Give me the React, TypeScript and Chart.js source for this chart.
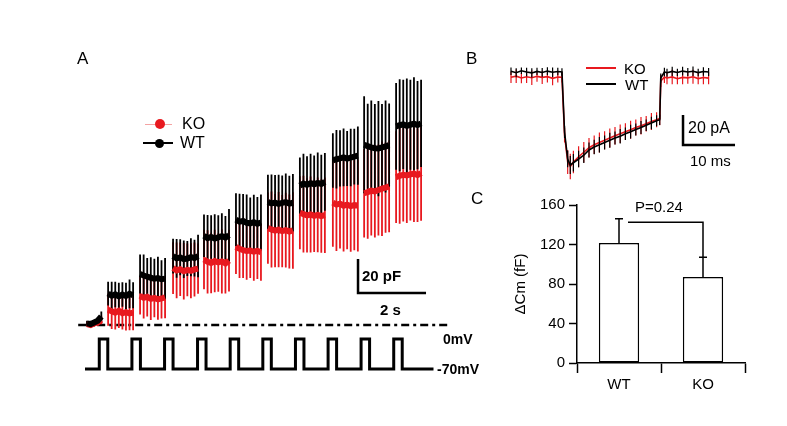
import React, { useEffect, useRef } from "react";
import { Chart, registerables } from "chart.js";

Chart.register(...registerables);

const FONT = '"Liberation Sans", Arial, Helvetica, sans-serif';
const RED = "#e8191f";
const BLACK = "#000000";

// ---------- Panel A: capacitance (pF) vs time (s) ----------
const groupStart = [0.06, 0.68, 1.62, 2.59, 3.5, 4.44, 5.38, 6.32, 7.29, 8.21, 9.15];
const sampleStep = 0.105;

const wtMean = [
  [1, 0.5, 1.5, 2.5, 5],
  [18.5, 17.2, 18.0, 16.8, 17.9, 17.1, 18.3, 17.5],
  [30.0, 29.1, 28.4, 27.8, 27.2, 27.6, 26.9, 27.3],
  [40.5, 39.2, 39.8, 38.7, 39.1, 39.9, 39.4, 40.6],
  [52.5, 51.1, 51.8, 50.9, 51.6, 52.3, 51.4, 52.8],
  [62.0, 60.8, 61.2, 60.1, 59.8, 60.5, 59.6, 60.3],
  [72.4, 71.5, 72.0, 71.2, 71.8, 72.3, 71.4, 71.9],
  [82.0, 83.2, 82.5, 83.4, 82.8, 83.6, 83.0, 84.2],
  [96.8, 97.5, 98.0, 98.6, 97.9, 98.5, 99.0, 99.6],
  [106.0, 105.2, 104.5, 104.0, 103.8, 104.5, 105.0, 105.8],
  [116.8, 117.5, 118.0, 117.2, 117.8, 118.4, 117.6, 118.6],
];
const wtErr = [
  [1.5, 2, 1.5, 2, 3],
  [7.0, 8.2, 7.5, 8.0, 7.2, 7.8, 8.4, 7.6],
  [11.5, 12.4, 11.0, 12.0, 11.8, 12.6, 11.2, 12.1],
  [10.2, 11.4, 10.6, 11.0, 10.3, 11.2, 10.8, 12.5],
  [12.5, 13.6, 12.8, 14.2, 13.0, 13.5, 12.7, 15.5],
  [15.5, 16.4, 15.8, 16.6, 15.2, 16.1, 15.7, 16.4],
  [16.0, 17.0, 16.3, 17.2, 16.1, 16.8, 16.4, 16.9],
  [16.5, 17.5, 16.8, 17.4, 16.9, 17.8, 17.2, 17.0],
  [16.0, 17.2, 16.5, 17.0, 16.2, 16.9, 16.4, 17.1],
  [28.5, 25.0, 27.5, 26.0, 28.0, 25.5, 27.0, 24.5],
  [25.5, 27.0, 26.2, 27.8, 26.5, 27.4, 26.0, 25.6],
];
const koMean = [
  [0.5, 0, 1, 1.5, 3],
  [9.0, 8.1, 7.2, 8.4, 6.9, 7.6, 6.8, 7.3],
  [17.2, 16.0, 16.6, 15.4, 15.9, 15.1, 15.6, 16.3],
  [33.5, 32.1, 32.8, 31.6, 32.4, 31.9, 32.7, 33.2],
  [38.5, 37.2, 36.5, 37.6, 36.8, 37.4, 36.2, 37.9],
  [46.0, 44.8, 44.1, 43.5, 43.8, 43.1, 43.6, 42.9],
  [57.0, 56.2, 55.5, 56.1, 55.2, 55.8, 55.0, 55.6],
  [66.0, 65.2, 64.5, 65.0, 64.2, 64.8, 64.1, 64.6],
  [72.0, 70.8, 71.4, 70.2, 70.8, 69.9, 70.5, 70.3],
  [77.5, 78.2, 79.0, 78.6, 79.4, 80.2, 80.8, 81.5],
  [87.0, 87.8, 88.4, 88.0, 88.6, 89.0, 88.2, 89.4],
];
const koErr = [
  [1.5, 1.5, 2, 2, 2.5],
  [9.5, 10.5, 9.8, 10.2, 9.6, 10.8, 9.9, 10.4],
  [11.0, 12.2, 11.6, 12.5, 11.3, 12.0, 11.8, 12.4],
  [15.2, 16.4, 15.8, 16.6, 15.5, 16.2, 15.9, 14.8],
  [17.5, 18.6, 17.8, 18.4, 17.2, 18.9, 17.6, 18.2],
  [16.0, 17.2, 16.4, 16.9, 16.2, 17.0, 16.5, 16.8],
  [21.0, 22.4, 21.6, 22.2, 21.3, 22.0, 21.8, 22.5],
  [21.5, 22.6, 21.8, 22.4, 21.2, 22.0, 21.6, 22.2],
  [26.0, 27.2, 26.4, 27.0, 26.2, 26.8, 26.5, 27.1],
  [26.0, 27.5, 26.4, 27.2, 26.8, 27.8, 26.5, 27.0],
  [27.0, 28.2, 27.5, 28.0, 27.2, 28.4, 27.6, 28.1],
];

// stimulation protocol (s, mV)
const pulseStart = [0.42, 1.38, 2.34, 3.31, 4.27, 5.23, 6.19, 7.15, 8.12, 9.08];
const pulseWidth = 0.25;
const protocolEnd = 10.25;
const holdMv = -70;
const stepMv = 0;
const baselineSpan = [-0.2, 10.74];
const scaleBarA = { t0: 8.03, t1: 10.03, pF0: 18.8, pF1: 38.8 };

// ---------- Panel B: current (pA) vs time (ms) ----------
const tB = [0, 1, 2, 3, 4, 5, 6, 7, 8, 9, 9.8, 10.3, 10.9, 11.4, 12, 13, 14, 15, 16, 17, 18, 19, 20, 21, 22, 23, 24, 25, 26, 27, 28, 28.6, 28.8, 29.5, 30, 31, 32, 33, 34, 35, 36, 37, 38];
const wtI = [0.5, -0.5, 0.8, 0, -0.6, 0.4, -0.3, 0.6, -0.2, 0.3,
  0, -40, -58, -62,
  -60.5, -58, -55.5, -52, -50, -48.5, -47, -45.5, -44, -42.8, -41.2, -39.8, -38.3, -37, -35.5, -34, -32.5,
  -31.8, -4, 0,
  -0.5, 0.4, -0.3, 0.6, 0, 0.5, -0.4, 0.3, 0];
const wtIErr = [2.5, 3, 2.2, 2.8, 3.1, 2.4, 2.9, 2.6, 3.2, 2.5,
  2.5, 4, 5.5, 6,
  5.8, 5.5, 5.2, 5, 4.8, 5.2, 4.6, 5, 4.4, 4.8, 4.2, 4.6, 4.0, 4.4, 3.8, 4.2, 3.6,
  3.5, 3, 2.8,
  2.6, 3.1, 2.4, 2.9, 2.7, 3.2, 2.5, 2.8, 2.6];
const koI = [-3.5, -2.8, -4, -3.2, -3.8, -2.9, -3.6, -3.1, -4.2, -3.3,
  -3.5, -42, -60, -63,
  -60, -56.5, -53.5, -50.5, -48.5, -47, -45.5, -44, -42.5, -41.2, -39.8, -38.5, -37, -35.8, -34.5, -33, -31.8,
  -31, -6, -3.5,
  -4, -3.3, -4.5, -3.6, -3.9, -3.2, -4.4, -3.7, -4.1];
const koIErr = [3.8, 4.5, 3.5, 4.2, 4.8, 3.6, 4.4, 3.9, 4.6, 3.7,
  3.5, 5, 8, 8.5,
  7.5, 7, 6.8, 6.5, 6.2, 6.6, 6, 6.4, 5.8, 6.2, 5.6, 6, 5.4, 5.8, 5.2, 5.6, 5,
  4.5, 4, 3.8,
  4.2, 4.8, 3.6, 4.5, 4, 4.7, 3.8, 4.4, 4.1];
const scaleBarB = { t0: 33.08, t1: 43.08, pA0: -48.67, pA1: -28.67 };

// ---------- Panel C: ΔCm bar chart ----------
const cLabels = ["WT", "KO"];
const cMeans = [121.5, 87];
const cSem = [24.5, 20];
const pBracketLevel = 142.5;
const pText = "P=0.24";

type Pt = { x: number; y: number | null };

function groupLine(means: number[][]): Pt[] {
  const out: Pt[] = [];
  means.forEach((g, gi) => {
    g.forEach((v, i) => out.push({ x: groupStart[gi] + i * sampleStep, y: v }));
    out.push({ x: groupStart[gi] + g.length * sampleStep, y: null });
  });
  return out;
}
function groupErr(means: number[][], errs: number[][]): Pt[] {
  const out: Pt[] = [];
  means.forEach((g, gi) => {
    g.forEach((v, i) => {
      const x = groupStart[gi] + i * sampleStep;
      out.push({ x, y: v - errs[gi][i] }, { x, y: v + errs[gi][i] }, { x, y: null });
    });
  });
  return out;
}
function traceErr(t: number[], m: number[], e: number[]): Pt[] {
  const out: Pt[] = [];
  t.forEach((x, i) => out.push({ x, y: m[i] - e[i] }, { x, y: m[i] + e[i] }, { x, y: null }));
  return out;
}

const lineBase = { pointRadius: 0, tension: 0, spanGaps: false, fill: false };

// error bars + significance bracket for panel C, positioned through the chart's scales
const errorBarPlugin = {
  id: "cErrorBars",
  afterDatasetsDraw(chart: any) {
    const { ctx } = chart;
    const xs = chart.scales.x;
    const ys = chart.scales.y;
    ctx.save();
    ctx.strokeStyle = BLACK;
    ctx.lineWidth = 1.5;
    ctx.beginPath();
    cMeans.forEach((m, i) => {
      const px = xs.getPixelForValue(i);
      const y0 = ys.getPixelForValue(m);
      const y1 = ys.getPixelForValue(m + cSem[i]);
      ctx.moveTo(px, y0);
      ctx.lineTo(px, y1);
      ctx.moveTo(px - 4, y1);
      ctx.lineTo(px + 4, y1);
    });
    const bx0 = xs.getPixelForValue(0) + 9;
    const bx1 = xs.getPixelForValue(1);
    const by = ys.getPixelForValue(pBracketLevel);
    const byEnd = ys.getPixelForValue(cMeans[1] + cSem[1]);
    ctx.moveTo(bx0, by);
    ctx.lineTo(bx1, by);
    ctx.lineTo(bx1, byEnd);
    ctx.stroke();
    ctx.restore();
  },
};

function Label(p: { text: string; left: number; top: number; size: number; bold?: boolean }) {
  return (
    <div style={{ position: "absolute", left: p.left, top: p.top, fontSize: p.size, lineHeight: 1, fontWeight: p.bold ? "bold" : "normal", fontFamily: FONT, color: "#000", whiteSpace: "nowrap" }}>
      {p.text}
    </div>
  );
}

export default function App() {
  const refA = useRef<HTMLCanvasElement>(null);
  const refB = useRef<HTMLCanvasElement>(null);
  const refC = useRef<HTMLCanvasElement>(null);

  useEffect(() => {
    const protocol: Pt[] = [{ x: 0, y: holdMv }];
    pulseStart.forEach((p) => {
      protocol.push({ x: p, y: holdMv }, { x: p, y: stepMv }, { x: p + pulseWidth, y: stepMv }, { x: p + pulseWidth, y: holdMv });
    });
    protocol.push({ x: protocolEnd, y: holdMv });

    const chartA = new Chart(refA.current!, {
      type: "line",
      data: {
        datasets: [
          { ...lineBase, data: groupLine(wtMean), borderColor: BLACK, borderWidth: 6 },
          { ...lineBase, data: groupLine(koMean), borderColor: RED, borderWidth: 6 },
          { ...lineBase, data: groupErr(wtMean, wtErr), borderColor: BLACK, borderWidth: 1.8 },
          { ...lineBase, data: groupErr(koMean, koErr), borderColor: RED, borderWidth: 1.8 },
          { ...lineBase, data: protocol, yAxisID: "y2", borderColor: BLACK, borderWidth: 3 },
          { ...lineBase, data: [{ x: baselineSpan[0], y: 0 }, { x: baselineSpan[1], y: 0 }], borderColor: BLACK, borderWidth: 2.5, borderDash: [8, 4, 3, 4] },
          { ...lineBase, data: [{ x: scaleBarA.t0, y: scaleBarA.pF1 }, { x: scaleBarA.t0, y: scaleBarA.pF0 }, { x: scaleBarA.t1, y: scaleBarA.pF0 }], borderColor: BLACK, borderWidth: 2.5 },
        ] as any,
      },
      options: {
        animation: false,
        responsive: false,
        events: [],
        layout: { padding: 0 },
        plugins: { legend: { display: false }, tooltip: { enabled: false } },
        scales: {
          x: { type: "linear", min: -0.4412, max: 11.3235, display: false },
          y: { type: "linear", min: -38.235, max: 167.65, display: false },
          y2: { type: "linear", min: -119, max: 697.67, display: false },
        },
      },
    });

    const chartB = new Chart(refB.current!, {
      type: "line",
      data: {
        datasets: [
          { ...lineBase, data: tB.map((x, i) => ({ x, y: wtI[i] })), borderColor: BLACK, borderWidth: 1.6 },
          { ...lineBase, data: traceErr(tB, wtI, wtIErr), borderColor: BLACK, borderWidth: 1.2 },
          { ...lineBase, data: tB.map((x, i) => ({ x, y: koI[i] })), borderColor: RED, borderWidth: 1.6 },
          { ...lineBase, data: traceErr(tB, koI, koIErr), borderColor: RED, borderWidth: 1.2 },
          { ...lineBase, data: [{ x: scaleBarB.t0, y: scaleBarB.pA1 }, { x: scaleBarB.t0, y: scaleBarB.pA0 }, { x: scaleBarB.t1, y: scaleBarB.pA0 }], borderColor: BLACK, borderWidth: 2.5 },
        ] as any,
      },
      options: {
        animation: false,
        responsive: false,
        events: [],
        layout: { padding: 0 },
        plugins: { legend: { display: false }, tooltip: { enabled: false } },
        scales: {
          x: { type: "linear", min: -2.1154, max: 45.0, display: false },
          y: { type: "linear", min: -82, max: 18, display: false },
        },
      },
    });

    const tickFont = { size: 15, family: FONT };
    const chartC = new Chart(refC.current!, {
      type: "bar",
      data: {
        labels: cLabels,
        datasets: [
          { data: cMeans, backgroundColor: "#ffffff", borderColor: BLACK, borderWidth: 1.5, borderSkipped: false, barPercentage: 0.48, categoryPercentage: 1 },
        ] as any,
      },
      options: {
        animation: false,
        responsive: false,
        events: [],
        layout: { padding: { top: 25, right: 25, left: 0, bottom: 0 } },
        plugins: { legend: { display: false }, tooltip: { enabled: false } },
        scales: {
          x: {
            type: "category",
            offset: true,
            grid: { offset: true, drawOnChartArea: false, tickLength: 10, color: BLACK, tickColor: BLACK, tickWidth: 1.5 },
            border: { display: true, color: BLACK, width: 1.5 },
            ticks: { color: BLACK, font: tickFont, padding: 3 },
            afterFit: (s: any) => { s.height = 47; },
          },
          y: {
            type: "linear",
            min: 0,
            max: 160,
            ticks: { stepSize: 20, color: BLACK, font: tickFont, padding: 4, callback: (v: any) => (Number(v) % 40 === 0 ? String(v) : "") },
            grid: { drawOnChartArea: false, tickLength: 8, color: BLACK, tickColor: BLACK, tickWidth: 1.5 },
            border: { display: true, color: BLACK, width: 1.5 },
            title: { display: true, text: "ΔCm (fF)", color: BLACK, font: tickFont, padding: { top: 12, bottom: 0 } },
            afterFit: (s: any) => { s.width = 77; },
          },
        },
      },
      plugins: [errorBarPlugin],
    });

    return () => {
      chartA.destroy();
      chartB.destroy();
      chartC.destroy();
    };
  }, []);

  return (
    <div style={{ position: "absolute", left: 0, top: 0, width: 787, height: 426, background: "#fff", overflow: "hidden", fontFamily: FONT }}>
      <canvas ref={refA} width={400} height={350} style={{ position: "absolute", left: 70, top: 40 }} />
      <canvas ref={refB} width={245} height={150} style={{ position: "absolute", left: 500, top: 45 }} />
      <canvas ref={refC} width={270} height={230} style={{ position: "absolute", left: 500, top: 180 }} />

      <Label text="A" left={77} top={50} size={17} />
      <Label text="B" left={466} top={50} size={17} />
      <Label text="C" left={471} top={190} size={17} />

      {/* Panel A legend */}
      <div style={{ position: "absolute", left: 145, top: 123.5, width: 27, height: 1, background: "#f4a3a3" }} />
      <div style={{ position: "absolute", left: 155, top: 119, width: 10, height: 10, borderRadius: 5, background: RED }} />
      <Label text="KO" left={182} top={116} size={16} />
      <div style={{ position: "absolute", left: 143, top: 142, width: 30, height: 2, background: BLACK }} />
      <div style={{ position: "absolute", left: 154.5, top: 138.5, width: 9, height: 9, borderRadius: 5, background: BLACK }} />
      <Label text="WT" left={180} top={135} size={16} />

      <Label text="20 pF" left={362} top={267.5} size={15} bold />
      <Label text="2 s" left={380} top={301.5} size={15} bold />
      <Label text="0mV" left={443} top={332} size={14} bold />
      <Label text="-70mV" left={437} top={362} size={14} bold />

      {/* Panel B legend */}
      <div style={{ position: "absolute", left: 586, top: 67, width: 30, height: 2, background: RED }} />
      <Label text="KO" left={624} top={60.5} size={15} />
      <div style={{ position: "absolute", left: 586, top: 82.5, width: 30, height: 2, background: BLACK }} />
      <Label text="WT" left={625} top={76.5} size={15} />
      <Label text="20 pA" left={688} top={120} size={16} />
      <Label text="10 ms" left={690} top={152.5} size={15} />

      <Label text={pText} left={635} top={198.5} size={15} />
    </div>
  );
}
